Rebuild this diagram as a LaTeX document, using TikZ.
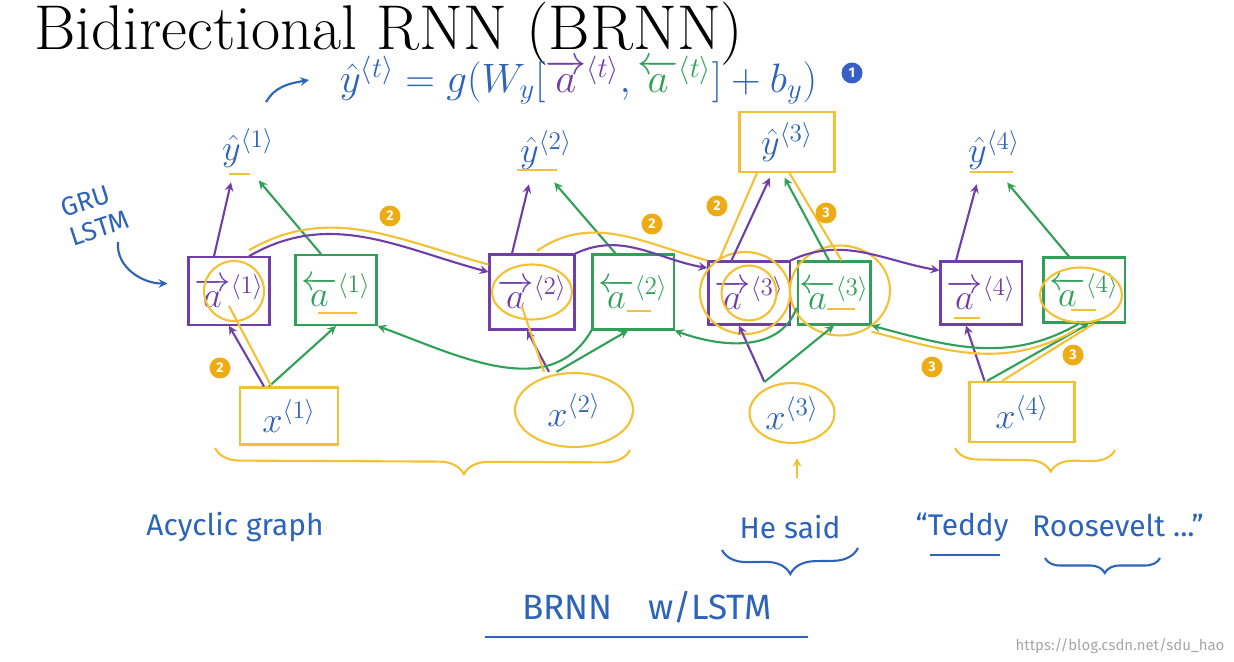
\documentclass[tikz,border=0pt]{standalone}
\usepackage{amsmath}
\usepackage{fontspec}
\setsansfont{Fira Sans}
\usetikzlibrary{shapes.geometric,arrows,decorations.pathreplacing}

\definecolor{ink}{RGB}{45,100,185}
\definecolor{fwdpurple}{RGB}{112,62,168}
\definecolor{bwdgreen}{RGB}{48,160,88}
\definecolor{hlorange}{RGB}{244,192,52}
\definecolor{badgeorange}{RGB}{238,172,20}
\definecolor{badgeblue}{RGB}{55,95,200}

\tikzstyle{fwdcell} = [rectangle, draw=fwdpurple, line width=1.2pt, minimum width=1.5cm, minimum height=1.35cm, text=fwdpurple, font=\fontsize{20}{22}\selectfont]
\tikzstyle{bwdcell} = [rectangle, draw=bwdgreen, line width=1.2pt, minimum width=1.45cm, minimum height=1.35cm, text=bwdgreen, font=\fontsize{20}{22}\selectfont]
\tikzstyle{inbox} = [draw=hlorange, line width=1.2pt, text=ink, font=\fontsize{22}{24}\selectfont]
\tikzstyle{outlabel} = [text=ink, font=\fontsize{20}{22}\selectfont]
\tikzstyle{fwdarrow} = [draw=fwdpurple, line width=1.2pt, ->, >=stealth]
\tikzstyle{bwdarrow} = [draw=bwdgreen, line width=1.2pt, ->, >=stealth]
\tikzstyle{hl} = [draw=hlorange, line width=1.2pt]
\tikzstyle{inkline} = [draw=ink, line width=1.2pt]
\tikzstyle{notearrow} = [draw=ink, line width=1.2pt, ->, >=stealth]
\tikzstyle{badge} = [circle, fill=badgeorange, text=white, inner sep=0pt, minimum size=0.42cm, font=\sffamily\bfseries\footnotesize]
\tikzstyle{note} = [text=ink, font=\sffamily\fontsize{17}{20}\selectfont]

\begin{document}
\begin{tikzpicture}[x=0.02cm, y=-0.02cm]
\useasboundingbox (0,0) rectangle (1234,662);

% title and output equation
\node[anchor=base west, font=\fontsize{36}{42}\selectfont] (title) at (28,50) {Bidirectional RNN (BRNN)};
\node[anchor=west, text=ink, scale=0.94, transform shape, font=\fontsize{25}{28}\selectfont] (eq) at (334,80) {$\hat{y}^{\langle t\rangle}=g(W_y[\textcolor{fwdpurple}{\overrightarrow{a}^{\langle t\rangle}},\textcolor{bwdgreen}{\overleftarrow{a}^{\langle t\rangle}}]+b_y)$};
\node[badge, fill=badgeblue] (b1) at (852,73) {1};

% outputs
\node[outlabel] (y1) at (248,148) {$\hat{y}^{\langle 1\rangle}$};
\node[outlabel] (y2) at (546,150) {$\hat{y}^{\langle 2\rangle}$};
\node[inbox, minimum width=1.9cm, minimum height=1.2cm, font=\fontsize{20}{22}\selectfont] (y3) at (787,142) {$\hat{y}^{\langle 3\rangle}$};
\node[outlabel] (y4) at (994,150) {$\hat{y}^{\langle 4\rangle}$};

% forward and backward cells
\node[fwdcell, minimum width=1.56cm] (af1) at (229,291) {$\overrightarrow{a}^{\langle 1\rangle}$};
\node[bwdcell, minimum height=1.4cm] (ab1) at (336,290) {$\overleftarrow{a}^{\langle 1\rangle}$};
\node[fwdcell, minimum width=1.7cm, minimum height=1.5cm] (af2) at (532,292) {$\overrightarrow{a}^{\langle 2\rangle}$};
\node[bwdcell, minimum height=1.5cm] (ab2) at (633,292) {$\overleftarrow{a}^{\langle 2\rangle}$};
\node[fwdcell, minimum width=1.44cm, minimum height=1.26cm] (af3) at (749,293) {$\overrightarrow{a}^{\langle 3\rangle}$};
\node[bwdcell, minimum width=1.24cm, minimum height=1.26cm, inner sep=1pt] (ab3) at (834,293) {$\overleftarrow{a}^{\langle 3\rangle}$};
\node[fwdcell, minimum width=1.46cm, minimum height=1.26cm] (af4) at (981,293) {$\overrightarrow{a}^{\langle 4\rangle}$};
\node[bwdcell, minimum height=1.3cm] (ab4) at (1084,290) {$\overleftarrow{a}^{\langle 4\rangle}$};

% inputs
\node[inbox, minimum width=1.96cm, minimum height=1.14cm] (x1) at (289,416) {$x^{\langle 1\rangle}$};
\node[inbox, ellipse, minimum width=2.36cm, minimum height=1.48cm] (x2) at (574,410) {$x^{\langle 2\rangle}$};
\node[inbox, ellipse, inner sep=0pt, minimum width=1.7cm, minimum height=1.2cm] (x3) at (792,413) {$x^{\langle 3\rangle}$};
\node[inbox, minimum width=2.1cm, minimum height=1.2cm] (x4) at (1022,412) {$x^{\langle 4\rangle}$};

% highlights
\draw[hl] ([xshift=0.1cm]af1.center) circle (0.6cm);
\draw[hl] (af2.center) ellipse (0.8cm and 0.55cm);
\draw[hl] (af3.center) circle (0.55cm);
\draw[hl] ([xshift=-0.08cm]af3.center) ellipse (0.9cm and 0.82cm);
\draw[hl] ([xshift=0.12cm,yshift=0.05cm]ab3.center) ellipse (1cm and 0.9cm);
\draw[hl] ([xshift=-0.06cm,yshift=-0.1cm]ab4.center) ellipse (0.82cm and 0.55cm);
\draw[hl] ([shift={(-19,26)}]y1.center) -- ([shift={(2,26)}]y1.center);
\draw[hl] ([shift={(-29,20)}]y2.center) -- ([shift={(11,20)}]y2.center);
\draw[hl] ([shift={(-24,22)}]y4.center) -- ([shift={(19,22)}]y4.center);
\draw[hl] ([shift={(-18,23)}]ab1.center) -- ([shift={(21,23)}]ab1.center);
\draw[hl] ([shift={(-6,19)}]ab2.center) -- ([shift={(18,19)}]ab2.center);
\draw[hl] ([shift={(-7,16)}]ab3.center) -- ([shift={(21,16)}]ab3.center);
\draw[hl] ([shift={(-13,20)}]ab4.center) -- ([shift={(12,20)}]ab4.center);
\draw[hl] ([shift={(-27,25)}]af4.center) -- ([shift={(-1,25)}]af4.center);

% inputs to cells
\draw[fwdarrow] ([xshift=-0.5cm]x1.north) -- (af1.south);
\draw[bwdarrow] ([xshift=-0.4cm]x1.north) -- (ab1.south);
\draw[fwdarrow] ([xshift=-0.5cm]x2.north) -- ([xshift=-0.1cm]af2.south);
\draw[bwdarrow] ([xshift=-0.35cm]x2.north) -- ([xshift=-0.1cm]ab2.south);
\draw[fwdarrow] ([xshift=-0.55cm]x3.north) -- ([xshift=-0.2cm]af3.south);
\draw[bwdarrow] ([xshift=-0.55cm]x3.north) -- (ab3.south);
\draw[fwdarrow] ([xshift=-0.75cm]x4.north) -- ([xshift=-0.3cm]af4.south);
\draw[bwdarrow] ([xshift=-0.7cm]x4.north) -- ([xshift=0.1cm]ab4.south);

% cells to outputs
\draw[fwdarrow, shorten >=5pt] ([xshift=-0.3cm]af1.north) -- ([xshift=-0.3cm]y1.south);
\draw[bwdarrow, shorten >=5pt] ([xshift=-0.3cm]ab1.north) -- ([xshift=0.1cm]y1.south);
\draw[fwdarrow, shorten >=5pt] ([xshift=-0.4cm]af2.north) -- ([xshift=-0.3cm]y2.south);
\draw[bwdarrow, shorten >=5pt] ([xshift=-0.35cm]ab2.north) -- ([xshift=0.05cm]y2.south);
\draw[fwdarrow, shorten >=3pt] ([xshift=-0.35cm]af3.north) -- ([xshift=-0.3cm]y3.south);
\draw[bwdarrow, shorten >=3pt] ([xshift=-0.1cm]ab3.north) -- ([xshift=-0.1cm]y3.south);
\draw[fwdarrow, shorten >=5pt] ([xshift=-0.5cm]af4.north) -- ([xshift=-0.3cm]y4.south);
\draw[bwdarrow, shorten >=5pt] ([xshift=-0.3cm]ab4.north) -- ([xshift=0.15cm]y4.south);

% forward recurrence
\draw[fwdarrow] ([xshift=0.4cm]af1.north) to[out=30, in=165] ([yshift=0.4cm]af2.west);
\draw[fwdarrow] (af2.north east) to[out=25, in=170] ([yshift=0.5cm]af3.west);
\draw[fwdarrow] (af3.north east) to[out=25, in=170] ([yshift=0.45cm]af4.west);

% backward recurrence
\draw[bwdarrow] (ab2.south west) to[out=-120, in=-20] (ab1.south east);
\draw[bwdarrow] ([yshift=-0.3cm]ab3.west) to[out=-110, in=-20] (ab2.south east);
\draw[bwdarrow] ([xshift=-0.1cm]ab4.south) to[out=-150, in=-15] (ab3.south east);

% traced paths
\draw[hl] ([xshift=-0.35cm]x1.north) -- ([yshift=-0.3cm]af1.center);
\draw[hl] ([xshift=-0.6cm]x2.north) -- ([xshift=-0.2cm,yshift=-0.3cm]af2.center);
\draw[hl] ([xshift=0.4cm,yshift=0.12cm]af1.north) to[out=30, in=165] ([yshift=0.55cm]af2.west);
\draw[hl] ([xshift=0.1cm,yshift=0.05cm]af2.north) to[out=35, in=165] ([yshift=0.65cm]af3.west);
\draw[hl] ([xshift=-0.6cm]af3.north) -- ([xshift=-0.6cm]y3.south);
\draw[hl] ([xshift=0.15cm]ab3.north) -- ([xshift=0.05cm]y3.south);
\draw[hl] ([xshift=-0.15cm,yshift=-0.12cm]ab4.south) to[out=-150, in=-15] ([yshift=-0.12cm]ab3.south east);
\draw[hl] ([xshift=-0.4cm]x4.north) -- ([xshift=0.2cm]ab4.south);

% step badges
\node[badge] (b2a) at (390,216) {2};
\node[badge] (b2b) at (220,368) {2};
\node[badge] (b2c) at (652,224) {2};
\node[badge] (b2d) at (717,206) {2};
\node[badge] (b3a) at (826,213) {3};
\node[badge] (b3b) at (932,367) {3};
\node[badge] (b3c) at (1073,355) {3};

% notes
\node[note, rotate=18, align=left, font=\sffamily\fontsize{15}{17}\selectfont] (gru) at (95,214) {GRU\\LSTM};
\draw[notearrow] ([shift={(23,28)}]gru.center) to[out=-95, in=180] ([xshift=-0.4cm,yshift=0.15cm]af1.west);
\draw[notearrow] ([shift={(18,-20)}]y1.north) to[out=60, in=190] ([xshift=-0.5cm]eq.west);

\draw[hl, decorate, decoration={brace, mirror, amplitude=0.5cm, aspect=0.6}] ([shift={(-74,32)}]x1.center) -- ([shift={(56,40)}]x2.center);
\draw[hl, decorate, decoration={brace, mirror, amplitude=0.45cm, aspect=0.6}] ([shift={(-67,36)}]x4.center) -- ([shift={(93,38)}]x4.center);
\draw[hl, ->, >=stealth] ([shift={(5,65)}]x3.center) -- ([shift={(5,45)}]x3.center);

\node[note] (acyclic) at (235,527) {Acyclic graph};
\node[note] (hesaid) at (790,527) {He said};
\node[note] (teddy) at (962,527) {“Teddy};
\node[note] (roosevelt) at (1118,525) {Roosevelt ...”};
\node[note, font=\sffamily\fontsize{20}{24}\selectfont] (brnn) at (647,607) {BRNN\quad w/LSTM};
\node[text=gray!70, font=\sffamily\fontsize{8.5}{10}\selectfont] (url) at (1120,646) {https://blog.csdn.net/sdu\_hao};

\draw[inkline, decorate, decoration={brace, mirror, amplitude=0.5cm}] ([shift={(-68,23)}]hesaid.center) -- ([shift={(68,21)}]hesaid.center);
\draw[inkline] ([shift={(-32,28)}]teddy.center) -- ([shift={(38,28)}]teddy.center);
\draw[inkline, decorate, decoration={brace, mirror, amplitude=0.3cm, aspect=0.52}] ([shift={(-73,33)}]roosevelt.center) -- ([shift={(42,33)}]roosevelt.center);
\draw[inkline] ([shift={(-162,30)}]brnn.center) -- ([shift={(161,30)}]brnn.center);

\end{tikzpicture}
\end{document}
